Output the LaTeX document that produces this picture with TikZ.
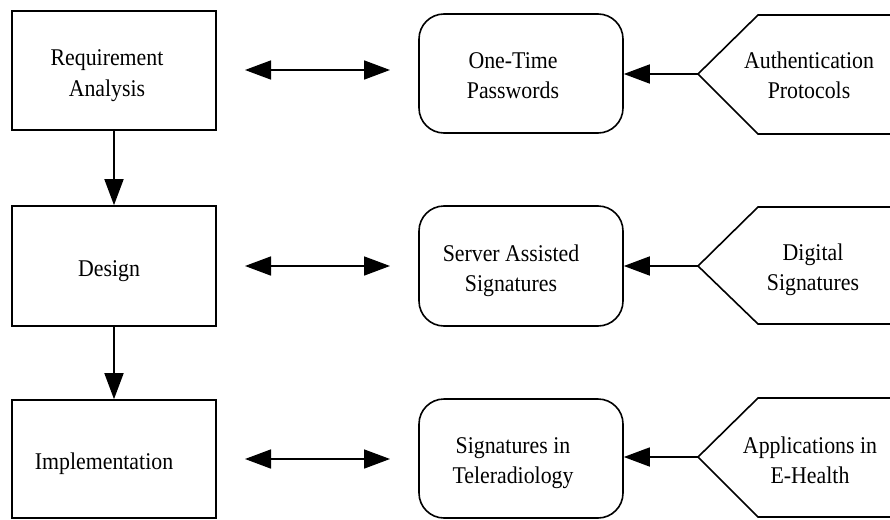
\documentclass[tikz,border=0pt]{standalone}
\usepackage{fontspec}
\setmainfont{Liberation Serif}[FakeStretch=0.91]
\usetikzlibrary{arrows.meta}
\begin{document}
\begin{tikzpicture}[x=1pt,y=-1pt,line width=1.6pt,
  lbl/.style={font=\fontsize{24}{30}\selectfont,align=center,inner sep=0pt},
  sqbox/.style={draw,rectangle,inner sep=0pt,minimum width=204pt},
  rbox/.style={draw,rectangle,rounded corners=25pt,inner sep=0pt,minimum width=204pt},
  tipr/.style={-{Triangle[length=26pt,width=19pt]}},
  dtip/.style={{Triangle[length=26pt,width=19pt]}-{Triangle[length=26pt,width=19pt]}}]
\useasboundingbox (0,0) rectangle (890,519);
\clip (0,0) rectangle (890,519);
% left boxes
\node[sqbox,minimum height=119pt] (r1) at (114,70.5) {};
\node[sqbox,minimum height=120pt] (r2) at (114,266) {};
\node[sqbox,minimum height=118pt] (r3) at (114,459) {};
\node[lbl] (t1) at (107,75) {\strut Requirement\\\strut Analysis};
\node[lbl] (t2) at (109,270) {\strut Design};
\node[lbl] (t3) at (104,463) {\strut Implementation};
\draw[tipr] (r1.south) -- (r2.north);
\draw[tipr] (r2.south) -- (r3.north);
% double arrows
\coordinate (d1l) at (245,70); \coordinate (d1r) at (390,70);
\coordinate (d2l) at (245,266); \coordinate (d2r) at (390,266);
\coordinate (d3l) at (245,459); \coordinate (d3r) at (390,459);
\draw[dtip] (d1l) -- (d1r);
\draw[dtip] (d2l) -- (d2r);
\draw[dtip] (d3l) -- (d3r);
% rounded boxes
\node[rbox,minimum height=119pt] (o1) at (521,73.5) {};
\node[rbox,minimum height=120pt] (o2) at (521,266) {};
\node[rbox,minimum height=119pt] (o3) at (521,458.5) {};
\node[lbl] (u1) at (513,77) {\strut One-Time\\\strut Passwords};
\node[lbl] (u2) at (511,270) {\strut Server Assisted\\\strut Signatures};
\node[lbl] (u3) at (513,462) {\strut Signatures in\\\strut Teleradiology};
% pentagons
\coordinate (a1) at (698,74);
\coordinate (a2) at (698,266);
\coordinate (a3) at (698,457);
\draw (900,15) -- (758,15) -- (a1) -- (758,134) -- (900,134);
\draw (900,207) -- (758,207) -- (a2) -- (758,324) -- (900,324);
\draw (900,398) -- (758,398) -- (a3) -- (758,517) -- (900,517);
\node[lbl] (p1) at (809,77) {\strut Authentication\\\strut Protocols};
\node[lbl] (p2) at (813,269) {\strut Digital\\\strut Signatures};
\node[lbl] (p3) at (810,462) {\strut Applications in\\\strut E-Health};
\draw[tipr] (a1) -- (a1 -| o1.east);
\draw[tipr] (a2) -- (a2 -| o2.east);
\draw[tipr] (a3) -- (a3 -| o3.east);
\end{tikzpicture}
\end{document}
